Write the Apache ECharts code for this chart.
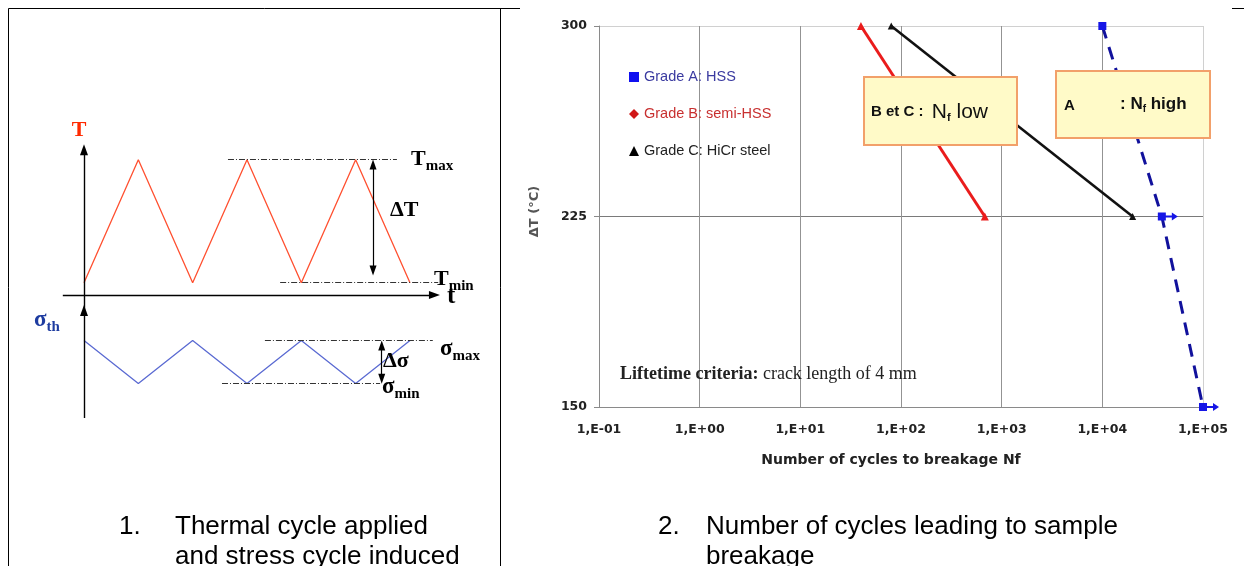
<!DOCTYPE html>
<html><head><meta charset="utf-8">
<script src="https://cdn.jsdelivr.net/npm/echarts@6/dist/echarts.min.js"></script>
<style>html,body{margin:0;padding:0;background:#fff}#c{width:1244px;height:566px}</style>
</head><body><div id="c"></div>
<script>
// ---------- Panel 1: schematic thermal / stress cycle (abstract units) ----------
const cycleTime = [0, 1, 2, 3, 4, 5, 6];
const temperature = [1, 11, 1, 11, 1, 11, 1];
const stress = [-3.7, -7.2, -3.7, -7.2, -3.7, -7.2, -3.7];
const T_MIN = 1, T_MAX = 11, S_MAX = -3.7, S_MIN = -7.2;

// ---------- Panel 2: number of cycles to breakage ----------
const xTickLabels = ['1,E-01', '1,E+00', '1,E+01', '1,E+02', '1,E+03', '1,E+04', '1,E+05'];
const seriesNames = ['Grade A: HSS', 'Grade B: semi-HSS', 'Grade C: HiCr steel'];
const gradeA_N = [1e4, 3.9e4, 1e5];
const gradeA_dT = [300, 225, 150];
const gradeB_N = [40, 680];
const gradeB_dT = [300, 225];
const gradeC_N = [80, 2.0e4];
const gradeC_dT = [300, 225];

const chart = echarts.init(document.getElementById('c'), null, {renderer: 'canvas'});

const SERIF = '"Liberation Serif", "Times New Roman", serif';
const SANS = '"Liberation Sans", Arial, sans-serif';
const DEJA = '"DejaVu Sans", sans-serif';
const DASHDOT = [6, 2, 1, 2];

function seg(p1, p2, o) {
  o = o || {};
  const size = o.size || [8, 11];
  return [
    {coord: p1, symbol: o.s1 || 'none', symbolSize: size, lineStyle: o.ls || {color: '#000', width: 1.4, type: 'solid'}},
    {coord: p2, symbol: o.s2 || 'none', symbolSize: size}
  ];
}
const dashStyle = {color: '#333', width: 1, type: DASHDOT};

const RUNOUT = 'path://M0,0H8V8H0Z M8,3H14V5H8Z M14,0L20,4L14,8Z';

function txt(x, y, text, o) {
  o = o || {};
  const style = {
    text: text, x: x, y: y,
    fill: o.fill || '#000',
    fontSize: o.size || 14, fontFamily: o.family || SANS, fontWeight: o.weight || 'normal',
    align: o.align || 'left', textAlign: o.align || 'left',
    verticalAlign: 'middle', textVerticalAlign: 'middle'
  };
  if (o.rich) style.rich = o.rich;
  return {type: 'text', z: 100, silent: true, style: style};
}
function subRich(main, sub, fill, family, weight, pad) {
  return {
    m: {fontSize: main, fontFamily: family, fontWeight: weight, fill: fill},
    s: {fontSize: sub, fontFamily: family, fontWeight: weight, fill: fill, padding: [pad, 0, 0, 0]}
  };
}

const option = {
  animation: false,
  backgroundColor: '#fff',
  grid: [
    {left: 29.67, top: 110.5, width: 461.8, height: 319.8, outerBoundsMode: 'none', containLabel: false},
    {left: 599, top: 26, width: 604, height: 381, outerBoundsMode: 'none', containLabel: false}
  ],
  xAxis: [
    {gridIndex: 0, type: 'value', min: -1, max: 7.5, show: false},
    {gridIndex: 1, type: 'log', logBase: 10, min: 0.1, max: 1e5, splitNumber: 6,
     axisLine: {show: true, lineStyle: {color: '#8a8a8a', width: 1}},
     axisTick: {show: false},
     axisLabel: {margin: 16, fontFamily: DEJA, fontWeight: 'bold', fontSize: 12.5, color: '#222',
       formatter: v => xTickLabels[Math.round(Math.log10(v)) + 1]},
     splitLine: {show: true, lineStyle: {color: ['#939393', '#939393', '#939393', '#939393', '#939393', '#939393', '#d0d0d0'], width: 1}},
     name: 'Number of cycles to breakage Nf', nameLocation: 'middle', nameGap: 46,
     nameTextStyle: {fontFamily: DEJA, fontWeight: 'bold', fontSize: 14, color: '#222', padding: [0, 20, 0, 0]}
    }
  ],
  yAxis: [
    {gridIndex: 0, type: 'value', min: -11, max: 15, show: false},
    {gridIndex: 1, type: 'value', min: 150, max: 300, interval: 75,
     axisLine: {show: true, lineStyle: {color: '#8a8a8a', width: 1}},
     axisTick: {show: true, length: 5, lineStyle: {color: '#8a8a8a'}},
     axisLabel: {margin: 12, fontFamily: DEJA, fontWeight: 'bold', fontSize: 12.5, color: '#222'},
     splitLine: {show: true, lineStyle: {color: ['#8a8a8a', '#7a7a7a', '#d0d0d0'], width: 1}},
     name: 'ΔT (°C)', nameLocation: 'middle', nameGap: 58, nameRotate: 90,
     nameTextStyle: {fontFamily: DEJA, fontWeight: 'bold', fontSize: 13, color: '#555', padding: [0, 0, 0, 10]}
    }
  ],
  legend: {
    orient: 'vertical', left: 624, top: 64.5, itemWidth: 10, itemHeight: 10, itemGap: 22,
    selectedMode: false,
    textStyle: {fontFamily: SANS, fontSize: 14.5},
    data: [
      {name: seriesNames[0], icon: 'rect', itemStyle: {color: '#1010f0'}, textStyle: {color: '#3a3aa0'}},
      {name: seriesNames[1], icon: 'diamond', itemStyle: {color: '#d01818'}, textStyle: {color: '#c83030'}},
      {name: seriesNames[2], icon: 'triangle', itemStyle: {color: '#000'}, textStyle: {color: '#222'}}
    ]
  },
  series: [
    {
      name: 'T', type: 'line', xAxisIndex: 0, yAxisIndex: 0, symbol: 'none', silent: true,
      data: cycleTime.map((t, i) => [t, temperature[i]]),
      lineStyle: {color: '#ff5030', width: 1.3},
      markLine: {
        silent: true, animation: false, label: {show: false}, symbol: 'none',
        data: [
          seg([-0.39, 0], [6.45, 0], {s2: 'triangle'}),
          seg([0, -1.25], [0, 11.8], {s2: 'triangle'}),
          seg([0, -10], [0, -1.25], {s2: 'triangle'}),
          seg([2.65, T_MAX], [5.76, T_MAX], {ls: dashStyle}),
          seg([3.61, T_MIN], [6.52, T_MIN], {ls: dashStyle}),
          seg([3.33, S_MAX], [6.42, S_MAX], {ls: dashStyle}),
          seg([2.54, S_MIN], [5.45, S_MIN], {ls: dashStyle}),
          seg([5.32, T_MIN + 1.0], [5.32, T_MAX - 0.4], {s1: 'triangle', s2: 'triangle', size: [7, 10], ls: {color: '#000', width: 1.2, type: 'solid'}}),
          seg([5.48, S_MAX - 0.4], [5.48, S_MIN + 0.4], {s1: 'triangle', s2: 'triangle', size: [7, 10], ls: {color: '#000', width: 1.2, type: 'solid'}})
        ]
      }
    },
    {
      name: 'σth', type: 'line', xAxisIndex: 0, yAxisIndex: 0, symbol: 'none', silent: true,
      data: cycleTime.map((t, i) => [t, stress[i]]),
      lineStyle: {color: '#5a6ad2', width: 1.3}
    },
    {
      name: seriesNames[0], type: 'line', xAxisIndex: 1, yAxisIndex: 1, clip: false, z: 4,
      showAllSymbol: true,
      data: gradeA_N.map((n, i) => ({
        value: [n, gradeA_dT[i]],
        symbol: i === 0 ? 'rect' : RUNOUT,
        symbolSize: i === 0 ? 8 : [20, 8],
        symbolOffset: i === 0 ? [0, 0] : [6, 0]
      })),
      lineStyle: {color: '#11119c', width: 3, type: [13, 9]},
      itemStyle: {color: '#1616e6'}
    },
    {
      name: seriesNames[1], type: 'line', xAxisIndex: 1, yAxisIndex: 1, clip: false, z: 3,
      data: gradeB_N.map((n, i) => [n, gradeB_dT[i]]),
      symbol: 'triangle', symbolSize: 8,
      lineStyle: {color: '#ea1c1c', width: 3},
      itemStyle: {color: '#ea1c1c'}
    },
    {
      name: seriesNames[2], type: 'line', xAxisIndex: 1, yAxisIndex: 1, clip: false, z: 3,
      data: gradeC_N.map((n, i) => [n, gradeC_dT[i]]),
      symbol: 'triangle', symbolSize: 7,
      lineStyle: {color: '#111', width: 2.6},
      itemStyle: {color: '#111'}
    }
  ],
  graphic: {elements: [
    // frame lines
    {type: 'polyline', z: 100, silent: true, shape: {points: [[8.5, 566], [8.5, 8.5], [520, 8.5]]}, style: {stroke: '#000', lineWidth: 1, fill: null}},
    {type: 'line', z: 100, silent: true, shape: {x1: 500.5, y1: 8.5, x2: 500.5, y2: 566}, style: {stroke: '#000', lineWidth: 1}},
    {type: 'line', z: 100, silent: true, shape: {x1: 1232, y1: 8.5, x2: 1244, y2: 8.5}, style: {stroke: '#000', lineWidth: 1}},

    // schematic labels
    txt(79, 130, 'T', {align: 'center', size: 22, family: SERIF, weight: 'bold', fill: '#ff2a00'}),
    txt(411, 159, '{m|T}{s|max}', {rich: subRich(22, 15, '#000', SERIF, 'bold', 14)}),
    txt(390, 210, 'ΔT', {size: 22, family: SERIF, weight: 'bold'}),
    txt(434, 279, '{m|T}{s|min}', {rich: subRich(22, 15, '#000', SERIF, 'bold', 14)}),
    txt(447, 297, 't', {size: 25, family: SERIF, weight: 'bold'}),
    txt(34, 320, '{m|σ}{s|th}', {rich: subRich(23, 15, '#1e3ca0', SERIF, 'bold', 14)}),
    txt(440, 349, '{m|σ}{s|max}', {rich: subRich(23, 15, '#000', SERIF, 'bold', 14)}),
    txt(383, 361, 'Δσ', {size: 22, family: SERIF, weight: 'bold'}),
    txt(382, 387, '{m|σ}{s|min}', {rich: subRich(23, 15, '#000', SERIF, 'bold', 14)}),

    // annotation boxes
    {type: 'rect', z: 90, silent: true, shape: {x: 864, y: 77, width: 153, height: 68}, style: {fill: '#fffac8', stroke: '#f2a06a', lineWidth: 2}},
    txt(871, 112, '{a|B et C :  }{m|N}{s|f}{m| low}', {rich: {
      a: {fontSize: 15, fontFamily: SANS, fontWeight: 'bold', fill: '#111'},
      m: {fontSize: 21, fontFamily: SANS, fontWeight: 'normal', fill: '#111'},
      s: {fontSize: 11, fontFamily: SANS, fontWeight: 'bold', fill: '#111', padding: [12, 0, 0, 0]}
    }}),
    {type: 'rect', z: 90, silent: true, shape: {x: 1056, y: 71, width: 154, height: 67}, style: {fill: '#fffac8', stroke: '#f2a06a', lineWidth: 2}},
    txt(1064, 106, 'A', {size: 15, weight: 'bold', fill: '#111'}),
    txt(1120, 104, '{m|: N}{s|f}{m| high}', {rich: {
      m: {fontSize: 17, fontFamily: SANS, fontWeight: 'bold', fill: '#111'},
      s: {fontSize: 10, fontFamily: SANS, fontWeight: 'bold', fill: '#111', padding: [10, 0, 0, 0]}
    }}),

    // lifetime criteria note
    txt(620, 374, '{b|Liftetime criteria:}{n| crack length of 4 mm}', {rich: {
      b: {fontSize: 18, fontFamily: SERIF, fontWeight: 'bold', fill: '#222'},
      n: {fontSize: 18, fontFamily: SERIF, fontWeight: 'normal', fill: '#222'}
    }}),

    // captions
    txt(119, 527, '1.', {size: 26}),
    txt(175, 527, 'Thermal cycle applied', {size: 26}),
    txt(175, 557, 'and stress cycle induced', {size: 26}),
    txt(658, 527, '2.', {size: 26}),
    txt(706, 527, 'Number of cycles leading to sample', {size: 26}),
    txt(706, 557, 'breakage', {size: 26})
  ]}
};
chart.setOption(option);
</script>
</body></html>
